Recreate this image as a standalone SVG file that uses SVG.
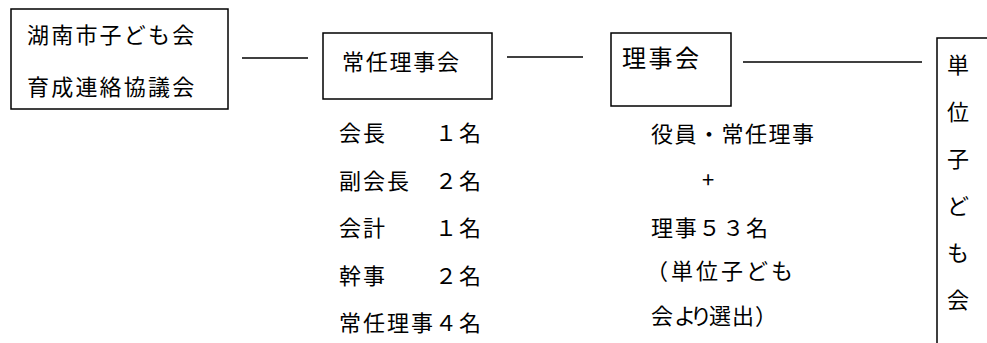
<svg xmlns="http://www.w3.org/2000/svg" width="987" height="343" viewBox="0 0 987 343">
<style>
rect{fill:#fff;stroke:#000;stroke-width:1.5}
line{stroke:#000;stroke-width:1.5}
text{font-family:"Noto Sans CJK JP","Noto Sans",sans-serif;font-size:22px;letter-spacing:2px;fill:#000}
.v{text-anchor:middle;letter-spacing:0}
</style>
<rect x="0" y="0" width="987" height="343" style="stroke:none"/>
<g id="connectors">
<line x1="242" y1="58" x2="308" y2="58"/>
<line x1="507" y1="57" x2="583" y2="57"/>
<line x1="743" y1="62" x2="922" y2="62"/>
</g>
<g id="node-kyogikai">
<rect x="11" y="9" width="217" height="100"/>
<text x="27" y="43.4" style="letter-spacing:2.2px">湖南市子ども会</text>
<text x="27" y="95" style="letter-spacing:2.2px">育成連絡協議会</text>
</g>
<g id="node-joninrijikai">
<rect x="323" y="33" width="169" height="66"/>
<text x="342" y="70.4" style="letter-spacing:1.75px">常任理事会</text>
</g>
<g id="node-joninrijikai-members">
<text x="339" y="141.4">会長　　１名</text>
<text x="339" y="189">副会長　２名</text>
<text x="339" y="236">会計　　１名</text>
<text x="339" y="284.4">幹事　　２名</text>
<text x="339" y="331.4">常任理事４名</text>
</g>
<g id="node-rijikai">
<rect x="611" y="33" width="120" height="73"/>
<text x="622" y="66.5" style="font-size:24px;letter-spacing:2.5px">理事会</text>
</g>
<g id="node-rijikai-members">
<text x="651" y="142.4" style="letter-spacing:1.5px">役員・常任理事</text>
<text x="708" y="187.5" class="v">+</text>
<text x="651" y="236.4" style="letter-spacing:1.75px">理事５３名</text>
<text x="646" y="279.4" style="letter-spacing:3px">（単位子ども</text>
<text x="651 674 690 709 732 755" y="324.4" style="letter-spacing:0">会より選出）</text>
</g>
<g id="node-tanikodomokai">
<rect x="937" y="38" width="100" height="400"/>
<text x="958" y="73.4" class="v">単</text>
<text x="958" y="120.4" class="v">位</text>
<text x="958" y="167.4" class="v">子</text>
<text x="958" y="214.4" class="v">ど</text>
<text x="958" y="261.4" class="v">も</text>
<text x="958" y="308.4" class="v">会</text>
</g>
</svg>
